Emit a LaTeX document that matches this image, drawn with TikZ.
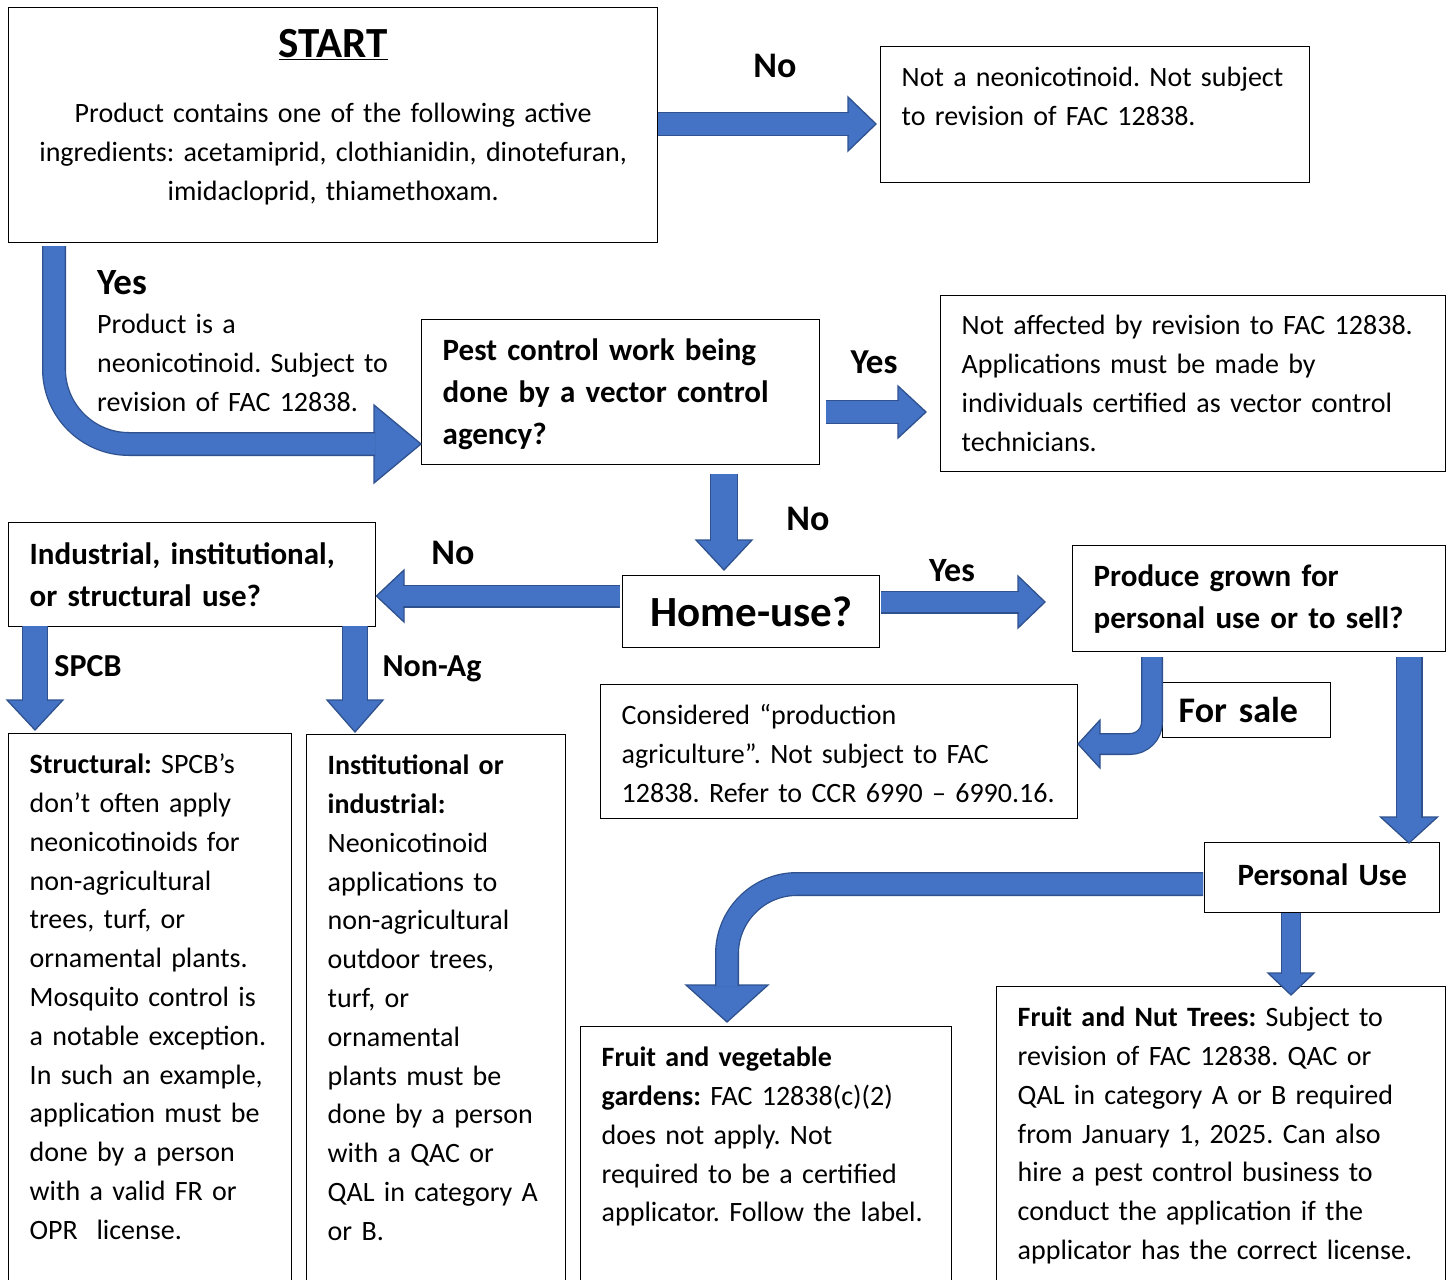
\documentclass[tikz,border=0pt]{standalone}
\usepackage{fontspec}
\setmainfont{Carlito}
\usepackage{tikz}
\usetikzlibrary{calc}
\frenchspacing

\definecolor{arrowblue}{HTML}{4472C4}
\definecolor{arrowline}{HTML}{2F528F}

\newcommand\bodyfont{\fontsize{28}{38.8}\selectfont}
\newcommand\boldfont{\fontsize{31}{42}\selectfont\bfseries}
\newcommand\headfill[3]{\filldraw[arrowhd] ($(#1)!#3!90:(#2)$) -- (#2) -- ($(#1)!#3!-90:(#2)$) -- cycle;}

\tikzset{
  box/.style={draw, line width=1.4pt, anchor=north west, inner xsep=21pt, inner ysep=0pt, align=left, font=\bodyfont},
  yesno/.style={font=\fontsize{36}{40}\selectfont\bfseries, inner sep=0pt, anchor=base},
  arrowhd/.style={draw=arrowline, fill=arrowblue, line width=1.3pt, line join=miter},
  shaft/.style={draw=arrowline, line width=1.3pt, double=arrowblue, double distance=#1},
}

\begin{document}
\begin{tikzpicture}[x=1pt, y=-1pt]
\useasboundingbox (0,0) rectangle (1450,1279);
\clip (0,0) rectangle (1450,1279);
\fill[white] (0,0) rectangle (1450,1279);

% boxes
\node[box, text width=607pt, align=center, text height=50pt, text depth=185pt] (start) at (8,7) {{\fontsize{43}{46}\selectfont\bfseries\underline{START}}\\[26pt]
Product contains one of the following active\\ingredients: acetamiprid, clothianidin, dinotefuran,\\imidacloprid, thiamethoxam.};
\node[box, text width=387pt, text height=40pt, text depth=96pt] (notneo) at (880,46) {Not a neonicotinoid. Not subject\\to revision of FAC 12838.};
\node[box, font=\boldfont, text width=356pt, text height=41pt, text depth=104pt] (pest) at (421,319) {Pest control work being\\done by a vector control\\agency?};
\node[box, text width=463pt, text height=39pt, text depth=137pt] (notaff) at (940,295) {Not affected by revision to FAC 12838.\\Applications must be made by\\individuals certified as vector control\\technicians.};
\node[box, font=\boldfont, text width=325pt, text height=42pt, text depth=62pt] (indus) at (8,522) {Industrial, institutional,\\or structural use?};
\node[box, font=\fontsize{43}{46}\selectfont\bfseries, align=center, text width=215pt, text height=51pt, text depth=21pt] (home) at (622,575) {Home-use?};
\node[box, font=\boldfont, text width=331pt, text height=41pt, text depth=65pt] (produce) at (1072,545) {Produce grown for\\personal use or to sell?};
\node[box, text width=435pt, text height=40pt, text depth=94pt] (consid) at (600,684) {Considered “production\\agriculture”. Not subject to FAC\\\mbox{12838. Refer to CCR 6990 – 6990.16.}};
\node[box, font=\fontsize{36}{40}\selectfont\bfseries, inner xsep=16pt, text width=136pt, text height=40pt, text depth=15pt] (forsale) at (1162,682) {For sale};
\node[box, font=\boldfont, align=center, text width=193pt, text height=43pt, text depth=27pt] (personal) at (1204,842) {Personal Use};
\node[box, text width=241pt, text height=40pt, text depth=560pt] (struct) at (8,733) {\textbf{Structural:} SPCB’s\\don’t often apply\\neonicotinoids for\\non-agricultural\\trees, turf, or\\ornamental plants.\\Mosquito control is\\a notable exception.\\In such an example,\\application must be\\done by a person\\with a valid FR or\\OPR\ \ license.};
\node[box, text width=217pt, text height=40pt, text depth=560pt] (instit) at (306,734) {\textbf{Institutional or}\\\textbf{industrial:}\\Neonicotinoid\\applications to\\non-agricultural\\outdoor trees,\\turf, or\\ornamental\\plants must be\\done by a person\\with a QAC or\\QAL in category A\\or B.};
\node[box, text width=329pt, text height=40pt, text depth=300pt] (fveg) at (580,1026) {\textbf{Fruit and vegetable}\\\textbf{gardens:} FAC 12838(c)(2)\\does not apply. Not\\required to be a certified\\applicator. Follow the label.};
\node[box, text width=407pt, text height=40pt, text depth=340pt] (fnut) at (996,986) {\textbf{Fruit and Nut Trees:} Subject to\\revision of FAC 12838. QAC or\\QAL in category A or B required\\from January 1, 2025. Can also\\hire a pest control business to\\conduct the application if the\\\mbox{applicator has the correct license.}};

% arrows
\coordinate (a1b) at (848,124);
\coordinate (a1t) at (876,124);
\headfill{a1b}{a1t}{27pt}
\draw[shaft=21.4pt] (start.east |- a1b) -- ($(a1b)!1pt!(a1t)$);

\coordinate (a2s) at (54,246);
\coordinate (a2b) at (374,444);
\coordinate (a2t) at (pest.west |- a2b);
\headfill{a2b}{a2t}{39pt}
\draw[shaft=21.4pt, rounded corners=75pt] (a2s) |- ($(a2b)!1pt!(a2t)$);

\coordinate (a3s) at (826,412);
\coordinate (a3b) at (898,412);
\coordinate (a3t) at (926,412);
\headfill{a3b}{a3t}{26pt}
\draw[shaft=21.4pt] (a3s) -- ($(a3b)!1pt!(a3t)$);

\coordinate (a4s) at (724,474);
\coordinate (a4b) at (724,540);
\coordinate (a4t) at (724,570);
\headfill{a4b}{a4t}{28pt}
\draw[shaft=25.4pt] (a4s) -- ($(a4b)!1pt!(a4t)$);

\coordinate (a5s) at (620,596);
\coordinate (a5b) at (404,596);
\coordinate (a5t) at (indus.east |- a5s);
\headfill{a5b}{a5t}{26pt}
\draw[shaft=20.4pt] (a5s) -- ($(a5b)!1pt!(a5t)$);

\coordinate (a6s) at (881,602);
\coordinate (a6b) at (1018,602);
\coordinate (a6t) at (1045,602);
\headfill{a6b}{a6t}{26pt}
\draw[shaft=20.4pt] (a6s) -- ($(a6b)!1pt!(a6t)$);

\coordinate (a7s) at (35,626);
\coordinate (a7b) at (35,700);
\coordinate (a7t) at (35,730);
\headfill{a7b}{a7t}{28pt}
\draw[shaft=23.4pt] (a7s) -- ($(a7b)!1pt!(a7t)$);

\coordinate (a8s) at (355,626);
\coordinate (a8b) at (355,700);
\coordinate (a8t) at (355,732);
\headfill{a8b}{a8t}{28pt}
\draw[shaft=23.4pt] (a8s) -- ($(a8b)!1pt!(a8t)$);

\coordinate (a9s) at (1152,657);
\coordinate (a9b) at (1100,744);
\coordinate (a9t) at (1078,744);
\headfill{a9b}{a9t}{24pt}
\draw[shaft=19.4pt, rounded corners=22pt] (a9s) |- ($(a9b)!1pt!(a9t)$);

\coordinate (a10s) at (1409,657);
\coordinate (a10b) at (1409,817);
\coordinate (a10t) at (1409,843);
\headfill{a10b}{a10t}{28.5pt}
\draw[shaft=24.4pt] (a10s) -- ($(a10b)!1pt!(a10t)$);

\coordinate (a11s) at (1291,913);
\coordinate (a11b) at (1291,973);
\coordinate (a11t) at (1291,995);
\headfill{a11b}{a11t}{23pt}
\draw[shaft=17.4pt] (a11s) -- ($(a11b)!1pt!(a11t)$);

\coordinate (a12s) at (1203,884);
\coordinate (a12b) at (727,985);
\coordinate (a12t) at (727,1022);
\headfill{a12b}{a12t}{41pt}
\draw[shaft=21.4pt, rounded corners=70pt] (a12s) -| ($(a12b)!1pt!(a12t)$);

% labels
\node[yesno] (no1) at (775,78) {No};
\node[font=\bodyfont, text width=310pt, align=left, inner sep=0pt, anchor=base west] (yes1) at (97,294) {{\fontsize{37}{40}\selectfont\bfseries Yes}\\[1pt]Product is a\\neonicotinoid. Subject to\\revision of FAC 12838.};
\node[yesno, font=\fontsize{35}{40}\selectfont\bfseries] (yes2) at (874,373) {Yes};
\node[yesno] (no2) at (808,530) {No};
\node[yesno] (no3) at (453,564) {No};
\node[yesno, font=\fontsize{34}{40}\selectfont\bfseries] (yes3) at (952,581) {Yes};
\node[yesno, font=\fontsize{32}{36}\selectfont\bfseries] (spcb) at (88,676) {SPCB};
\node[yesno, font=\fontsize{32}{36}\selectfont\bfseries] (nonag) at (432,676) {Non-Ag};
\end{tikzpicture}
\end{document}
